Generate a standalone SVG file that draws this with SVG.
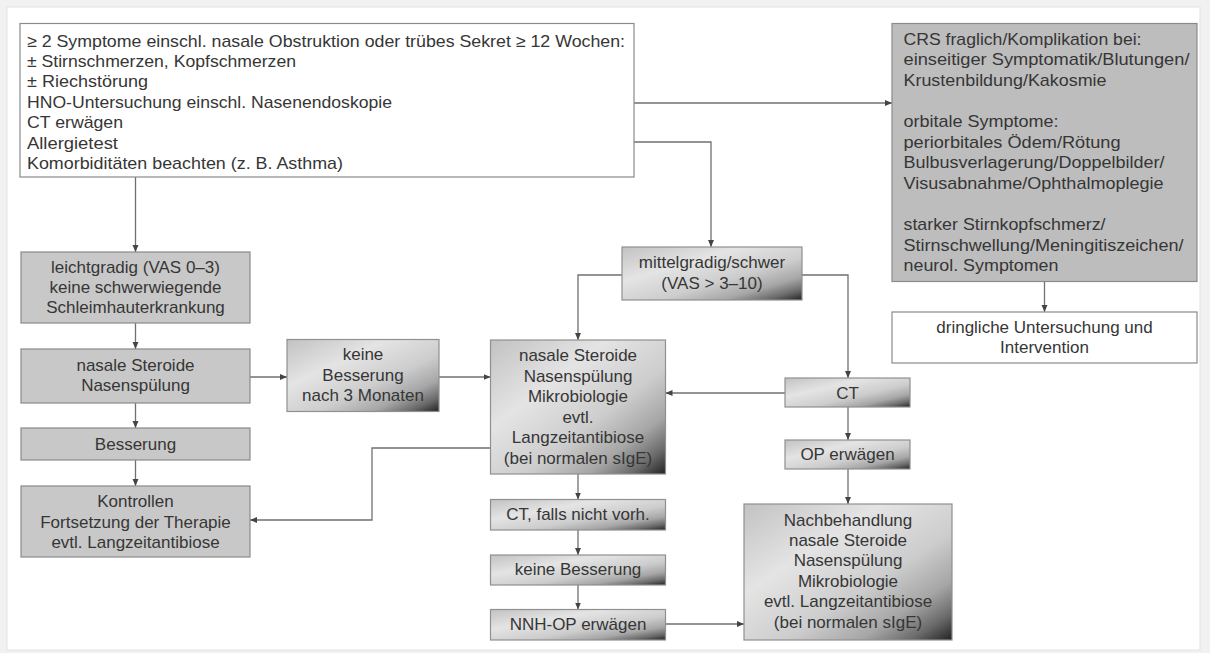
<svg xmlns="http://www.w3.org/2000/svg" width="1210" height="653" viewBox="0 0 1210 653">
<style>
text{font-family:"Liberation Sans",Arial,sans-serif;font-size:17px;fill:#363636}
.c{text-anchor:middle}
.w{fill:#ffffff;stroke:#8a8a8a;stroke-width:1.2}
.f{fill:#c8c8c8;stroke:#8a8a8a;stroke-width:1.2}
.g{fill:url(#grad);stroke:#909090;stroke-width:1.2}
.cn path{fill:none;stroke:#707070;stroke-width:1.3;marker-end:url(#ah)}
</style>
<defs>
<linearGradient id="grad" x1="0" y1="0" x2="1" y2="1">
<stop offset="0" stop-color="#c2c2c2"/>
<stop offset="0.33" stop-color="#e4e4e4"/>
<stop offset="0.6" stop-color="#cdcdcd"/>
<stop offset="0.78" stop-color="#a6a6a6"/>
<stop offset="0.9" stop-color="#6a6a6a"/>
<stop offset="1" stop-color="#222222"/>
</linearGradient>
<marker id="ah" markerWidth="8" markerHeight="8" refX="7" refY="4" orient="auto" markerUnits="userSpaceOnUse">
<path d="M0,1 L7,4 L0,7 z" fill="#444"/>
</marker>
</defs>
<rect x="0" y="0" width="1210" height="653" fill="#f1f1f1"/>
<rect x="7" y="7" width="1193" height="643" fill="#ffffff" stroke="#e2e2e2" stroke-width="1"/>

<g class="cn" id="connectors">
<path d="M135.5,177 V252"/>
<path d="M634,103 H892"/>
<path d="M634,142 H711 V247"/>
<path d="M622,275 H578 V340"/>
<path d="M802,275 H848 V378"/>
<path d="M135.5,323 V349"/>
<path d="M135.5,403 V428"/>
<path d="M135.5,460 V486"/>
<path d="M250,377 H287"/>
<path d="M439,377 H490.5"/>
<path d="M490.5,448 H372 V520 H250"/>
<path d="M785,393 H665.5"/>
<path d="M848,407 V440"/>
<path d="M848,469 V504"/>
<path d="M578,474 V499.5"/>
<path d="M578,530 V555"/>
<path d="M578,585 V609.5"/>
<path d="M665.5,624 H744"/>
<path d="M1044.5,281.5 V312"/>
</g>

<g id="n_top">
<rect class="w" x="20" y="23.5" width="614" height="153.5"/>
<text x="27" y="46.5" textLength="598" lengthAdjust="spacingAndGlyphs">≥ 2 Symptome einschl. nasale Obstruktion oder trübes Sekret ≥ 12 Wochen:</text>
<text x="27" y="66.9" textLength="269" lengthAdjust="spacingAndGlyphs">± Stirnschmerzen, Kopfschmerzen</text>
<text x="27" y="87.3" textLength="121" lengthAdjust="spacingAndGlyphs">± Riechstörung</text>
<text x="27" y="107.7" textLength="365" lengthAdjust="spacingAndGlyphs">HNO-Untersuchung einschl. Nasenendoskopie</text>
<text x="27" y="128.1" textLength="96" lengthAdjust="spacingAndGlyphs">CT erwägen</text>
<text x="27" y="148.5" textLength="91" lengthAdjust="spacingAndGlyphs">Allergietest</text>
<text x="27" y="168.9" textLength="316" lengthAdjust="spacingAndGlyphs">Komorbiditäten beachten (z. B. Asthma)</text>
</g>

<g id="n_right">
<rect x="892" y="23.5" width="305" height="258" fill="#bdbdbd" stroke="#8a8a8a" stroke-width="1.2"/>
<text x="903.5" y="44.5" textLength="238" lengthAdjust="spacingAndGlyphs">CRS fraglich/Komplikation bei:</text>
<text x="903.5" y="65.1" textLength="286" lengthAdjust="spacingAndGlyphs">einseitiger Symptomatik/Blutungen/</text>
<text x="903.5" y="85.7" textLength="203" lengthAdjust="spacingAndGlyphs">Krustenbildung/Kakosmie</text>
<text x="903.5" y="126.9" textLength="155" lengthAdjust="spacingAndGlyphs">orbitale Symptome:</text>
<text x="903.5" y="147.5" textLength="217" lengthAdjust="spacingAndGlyphs">periorbitales Ödem/Rötung</text>
<text x="903.5" y="168.1" textLength="261" lengthAdjust="spacingAndGlyphs">Bulbusverlagerung/Doppelbilder/</text>
<text x="903.5" y="188.7" textLength="260" lengthAdjust="spacingAndGlyphs">Visusabnahme/Ophthalmoplegie</text>
<text x="903.5" y="229.9" textLength="202" lengthAdjust="spacingAndGlyphs">starker Stirnkopfschmerz/</text>
<text x="903.5" y="250.5" textLength="280" lengthAdjust="spacingAndGlyphs">Stirnschwellung/Meningitiszeichen/</text>
<text x="903.5" y="271.1" textLength="155" lengthAdjust="spacingAndGlyphs">neurol. Symptomen</text>
</g>

<g id="n_dringlich">
<rect class="w" x="892" y="312" width="305" height="51"/>
<text class="c" x="1044.5" y="332.5">dringliche Untersuchung und</text>
<text class="c" x="1044.5" y="353">Intervention</text>
</g>

<g id="n_leicht">
<rect class="f" x="21" y="252" width="229" height="71"/>
<text class="c" x="135.5" y="272.5">leichtgradig (VAS 0–3)</text>
<text class="c" x="135.5" y="292.5">keine schwerwiegende</text>
<text class="c" x="135.5" y="313">Schleimhauterkrankung</text>
</g>

<g id="n_nasal1">
<rect class="f" x="21" y="349" width="229" height="54"/>
<text class="c" x="135.5" y="370.5">nasale Steroide</text>
<text class="c" x="135.5" y="390.5">Nasenspülung</text>
</g>

<g id="n_besserung">
<rect class="f" x="21" y="428" width="229" height="32"/>
<text class="c" x="135.5" y="449.5">Besserung</text>
</g>

<g id="n_kontrollen">
<rect class="f" x="21" y="486" width="229" height="71"/>
<text class="c" x="135.5" y="506.5">Kontrollen</text>
<text class="c" x="135.5" y="527.5">Fortsetzung der Therapie</text>
<text class="c" x="135.5" y="547.5">evtl. Langzeitantibiose</text>
</g>

<g id="n_keine3">
<rect class="g" x="287" y="339.5" width="152" height="72"/>
<text class="c" x="363" y="360">keine</text>
<text class="c" x="363" y="381">Besserung</text>
<text class="c" x="363" y="401">nach 3 Monaten</text>
</g>

<g id="n_mittel">
<rect class="g" x="622" y="247" width="180" height="53"/>
<text class="c" x="712" y="267.5">mittelgradig/schwer</text>
<text class="c" x="712" y="289">(VAS &gt; 3–10)</text>
</g>

<g id="n_mid">
<rect class="g" x="490.5" y="340" width="175" height="134"/>
<text class="c" x="578" y="360.5">nasale Steroide</text>
<text class="c" x="578" y="381.5">Nasenspülung</text>
<text class="c" x="578" y="402">Mikrobiologie</text>
<text class="c" x="578" y="422.5">evtl.</text>
<text class="c" x="578" y="443">Langzeitantibiose</text>
<text class="c" x="578" y="463.5">(bei normalen sIgE)</text>
</g>

<g id="n_ct">
<rect class="g" x="785" y="378" width="125" height="29"/>
<text class="c" x="847.5" y="399">CT</text>
</g>

<g id="n_op">
<rect class="g" x="785" y="440" width="125" height="29"/>
<text class="c" x="847.5" y="460">OP erwägen</text>
</g>

<g id="n_ctfalls">
<rect class="g" x="490.5" y="499.5" width="175" height="30.5"/>
<text class="c" x="578" y="519.5">CT, falls nicht vorh.</text>
</g>

<g id="n_keinebess">
<rect class="g" x="490.5" y="555" width="175" height="30"/>
<text class="c" x="578" y="575">keine Besserung</text>
</g>

<g id="n_nnh">
<rect class="g" x="490.5" y="609.5" width="175" height="30.5"/>
<text class="c" x="578" y="630">NNH-OP erwägen</text>
</g>

<g id="n_nach">
<rect class="g" x="744" y="504" width="208" height="136"/>
<text class="c" x="848" y="525.5">Nachbehandlung</text>
<text class="c" x="848" y="546">nasale Steroide</text>
<text class="c" x="848" y="566">Nasenspülung</text>
<text class="c" x="848" y="586.5">Mikrobiologie</text>
<text class="c" x="848" y="607">evtl. Langzeitantibiose</text>
<text class="c" x="848" y="628">(bei normalen sIgE)</text>
</g>
</svg>
